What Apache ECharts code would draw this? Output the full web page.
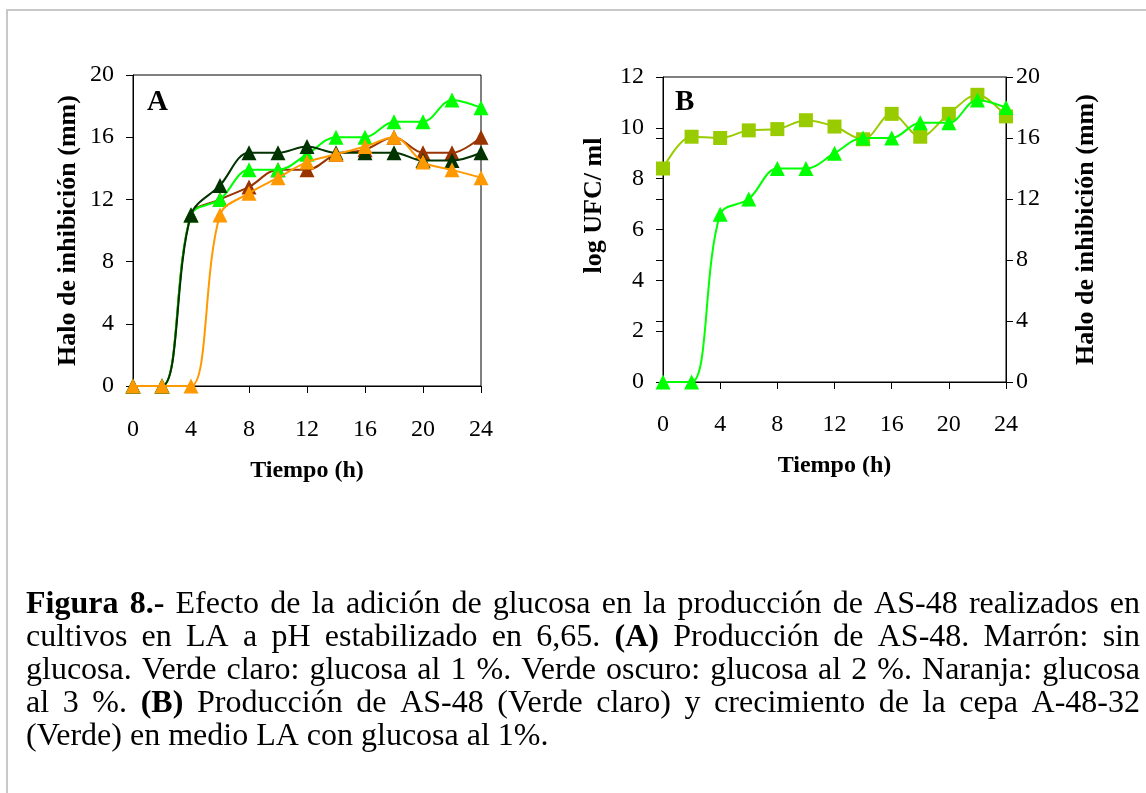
<!DOCTYPE html>
<html>
<head>
<meta charset="utf-8">
<script src="https://cdn.jsdelivr.net/npm/echarts@6/dist/echarts.min.js"></script>
<style>
  html, body { margin: 0; padding: 0; background: #fff; }
  #chart { width: 1146px; height: 793px; }
</style>
</head>
<body>
<div id="chart"></div>
<script>
// Sampling times (h)
const hours = [0, 2, 4, 6, 8, 10, 12, 14, 16, 18, 20, 22, 24];

// Panel A: inhibition halo (mm) for each glucose level
const haloSinGlucosa = [0, 0, 11, 12, 12.8, 13.9, 13.9, 14.9, 15.2, 16, 15, 15, 16];      // marrón
const haloGlucosa1   = [0, 0, 11, 12, 13.9, 13.9, 14.9, 16, 16, 17, 17, 18.4, 17.9];      // verde claro
const haloGlucosa2   = [0, 0, 11, 12.9, 15, 15, 15.4, 15, 15, 15, 14.5, 14.5, 15];        // verde oscuro
const haloGlucosa3   = [0, 0, 0, 11, 12.4, 13.4, 14.4, 14.9, 15.4, 16, 14.4, 13.9, 13.4]; // naranja

// Panel B: growth (log UFC/ml) and inhibition halo (mm) with 1% glucose
const logUFC = [8.4, 9.65, 9.6, 9.9, 9.95, 10.3, 10.05, 9.55, 10.55, 9.65, 10.55, 11.3, 10.45];
const haloB  = [0, 0, 11, 12, 14, 14, 15, 16, 16, 17, 17, 18.5, 18];

// Axis ranges and tick steps
const timeRange = { min: 0, max: 24, step: 4 };
const haloRange = { min: 0, max: 20, step: 4 };
const ufcRange  = { min: 0, max: 12, step: 2 };

// Caption lines (bold segments flagged)
const captionLines = [
  [{ t: 'Figura 8.-', b: true }, { t: ' Efecto de la adición de glucosa en la producción de AS-48 realizados en' }],
  [{ t: 'cultivos en LA a pH estabilizado en 6,65. ' }, { t: '(A)', b: true }, { t: ' Producción de AS-48. Marrón: sin' }],
  [{ t: 'glucosa. Verde claro: glucosa al 1 %. Verde oscuro: glucosa al 2 %. Naranja: glucosa' }],
  [{ t: 'al 3 %. ' }, { t: '(B)', b: true }, { t: ' Producción de AS-48 (Verde claro) y crecimiento de la cepa A-48-32' }],
  [{ t: '(Verde) en medio LA con glucosa al 1%.' }]
];

const SERIF = '"Liberation Serif", "Times New Roman", serif';
const pairs = (ys) => hours.map((h, i) => [h, ys[i]]);

function timeAxis(gridIndex, nameGap, labelMargin) {
  return {
    gridIndex, type: 'value', min: timeRange.min, max: timeRange.max, interval: timeRange.step,
    name: 'Tiempo (h)', nameLocation: 'middle', nameGap,
    nameTextStyle: { fontFamily: SERIF, fontWeight: 'bold', fontSize: 24, color: '#000' },
    axisLine: { show: true, lineStyle: { color: '#000', width: 1 } },
    axisTick: { show: true, inside: false, length: 7, lineStyle: { color: '#000' } },
    axisLabel: { fontFamily: SERIF, fontSize: 24, color: '#000', margin: labelMargin },
    splitLine: { show: false }
  };
}

function valueAxis(gridIndex, range, extra) {
  return Object.assign({
    gridIndex, type: 'value', min: range.min, max: range.max, interval: range.step,
    axisLine: { show: true, onZero: false, lineStyle: { color: '#000', width: 1 } },
    axisTick: { show: true, inside: false, length: 7, lineStyle: { color: '#000' } },
    axisLabel: { fontFamily: SERIF, fontSize: 24, color: '#000', margin: 19 },
    splitLine: { show: false }
  }, extra);
}

function lineSeries(name, ys, color, symbol, size, xi, yi, z) {
  return {
    name, type: 'line', xAxisIndex: xi, yAxisIndex: yi, data: pairs(ys),
    smooth: 0.35, symbol, symbolSize: size, showSymbol: true, z,
    lineStyle: { color, width: 2 },
    itemStyle: { color, borderWidth: 0 },
    emphasis: { disabled: true }
  };
}

// Justified caption built from measured word widths
function buildCaption() {
  const size = 32, left = 26, right = 1140, top = 605, lineGap = 33;
  const ctx = document.createElement('canvas').getContext('2d');
  const fontOf = (b) => (b ? 'bold ' : '') + size + 'px ' + SERIF;
  const out = [];
  captionLines.forEach((segs, li) => {
    // split into words; a word may mix bold and regular pieces
    const words = [];
    let afterSpace = true;
    segs.forEach(seg => {
      const b = !!seg.b;
      let i = 0;
      const s = seg.t;
      while (i < s.length) {
        if (s[i] === ' ') { afterSpace = true; i++; continue; }
        let j = i;
        while (j < s.length && s[j] !== ' ') j++;
        const piece = { t: s.slice(i, j), b };
        if (afterSpace || !words.length) words.push({ pieces: [piece] });
        else words[words.length - 1].pieces.push(piece);
        afterSpace = false;
        i = j;
      }
    });
    words.forEach(w => {
      w.width = 0;
      w.pieces.forEach(pc => { ctx.font = fontOf(pc.b); pc.w = ctx.measureText(pc.t).width; w.width += pc.w; });
    });
    const total = words.reduce((s, w) => s + w.width, 0);
    ctx.font = fontOf(false);
    const last = li === captionLines.length - 1;
    const gap = last ? ctx.measureText(' ').width : (right - left - total) / (words.length - 1);
    let x = left;
    const y = top + li * lineGap;
    words.forEach(w => {
      let px = x;
      w.pieces.forEach(pc => {
        out.push({
          type: 'text', x: px, y, silent: true,
          style: { text: pc.t, font: fontOf(pc.b), fill: '#000', align: 'left', verticalAlign: 'middle' }
        });
        px += pc.w;
      });
      x += w.width + gap;
    });
  });
  return out;
}

const chart = echarts.init(document.getElementById('chart'), null, { renderer: 'canvas' });

chart.setOption({
  animation: false,
  backgroundColor: '#fff',
  grid: [
    { left: 133, top: 75, width: 348, height: 311, show: true, borderColor: '#000', borderWidth: 1, backgroundColor: 'transparent' },
    { left: 663, top: 77, width: 343, height: 305, show: true, borderColor: '#000', borderWidth: 1, backgroundColor: 'transparent' }
  ],
  xAxis: [timeAxis(0, 73, 32), timeAxis(1, 72, 31)],
  yAxis: [
    valueAxis(0, haloRange, {
      name: 'Halo de inhibición (mm)', nameLocation: 'middle', nameRotate: 90, nameGap: 52,
      nameTextStyle: { fontFamily: SERIF, fontWeight: 'bold', fontSize: 26, color: '#000' }
    }),
    valueAxis(1, ufcRange, {
      position: 'left',
      name: 'log UFC/ ml', nameLocation: 'middle', nameRotate: 90, nameGap: 56,
      nameTextStyle: { fontFamily: SERIF, fontWeight: 'bold', fontSize: 26, color: '#000', padding: [0, 0, 0, 48] }
    }),
    valueAxis(1, haloRange, {
      position: 'right',
      name: 'Halo de inhibición (mm)', nameLocation: 'middle', nameRotate: 90, nameGap: 67,
      nameTextStyle: { fontFamily: SERIF, fontWeight: 'bold', fontSize: 26, color: '#000' },
      axisLabel: { fontFamily: SERIF, fontSize: 24, color: '#000', margin: 10 }
    }),
    // inner half of the crossing ticks on the right axis of panel B
    valueAxis(1, haloRange, {
      position: 'right',
      axisLine: { show: false },
      axisTick: { show: true, inside: true, length: 7, lineStyle: { color: '#000' } },
      axisLabel: { show: false }
    })
  ],
  series: [
    lineSeries('Sin glucosa', haloSinGlucosa, '#993300', 'triangle', 15, 0, 0, 2),
    lineSeries('Glucosa 1 %', haloGlucosa1, '#00FF00', 'triangle', 15, 0, 0, 3),
    lineSeries('Glucosa 2 %', haloGlucosa2, '#003300', 'triangle', 15, 0, 0, 4),
    lineSeries('Glucosa 3 %', haloGlucosa3, '#FF9900', 'triangle', 15, 0, 0, 5),
    lineSeries('log UFC/ml', logUFC, '#99CC00', 'rect', 14, 1, 1, 2),
    lineSeries('Halo de inhibición', haloB, '#00FF00', 'triangle', 15, 1, 2, 3)
  ],
  graphic: [
    {
      type: 'rect', silent: true, z: -10,
      shape: { x: 7, y: 10, width: 1200, height: 900 },
      style: { fill: 'none', stroke: '#c8c8c8', lineWidth: 2 }
    },
    { type: 'text', left: 147, top: 88, silent: true,
      style: { text: 'A', font: 'bold 29px ' + SERIF, fill: '#000' } },
    { type: 'text', left: 675, top: 88, silent: true,
      style: { text: 'B', font: 'bold 29px ' + SERIF, fill: '#000' } }
  ].concat(buildCaption())
});
</script>
</body>
</html>
